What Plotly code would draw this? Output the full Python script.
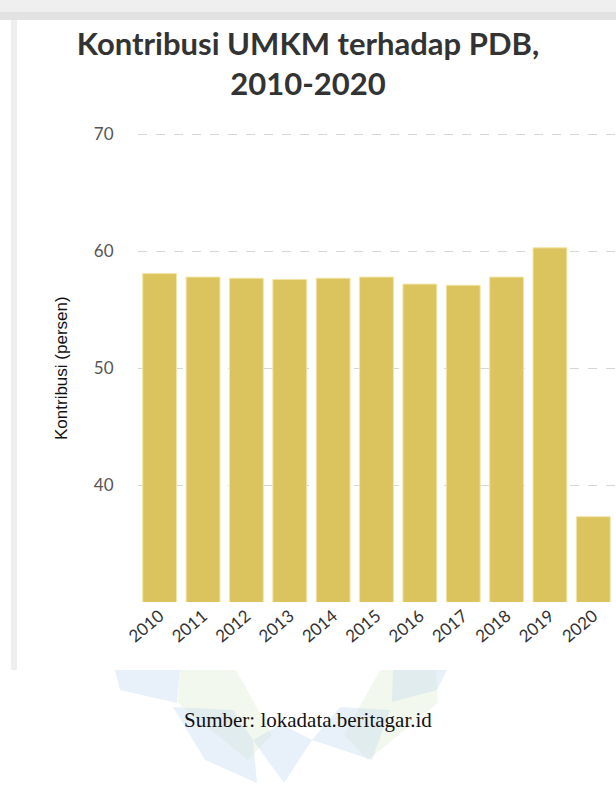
import plotly.graph_objects as go

years = ["2010", "2011", "2012", "2013", "2014", "2015", "2016", "2017", "2018", "2019", "2020"]
kontribusi = [58.1, 57.8, 57.7, 57.6, 57.7, 57.8, 57.2, 57.1, 57.8, 60.3, 37.3]
y_ticks = [30, 40, 50, 60, 70]
y_ticktext = ["", "40", "50", "60", "70"]

W, H = 616, 785
L, R, T, B = 138, 1, 131, 183
PW, PH = W - L - R, H - T - B

def px(x):
    return (x - L) / PW

def py(y):
    return (H - B - y) / PH

fig = go.Figure()
fig.add_trace(go.Bar(
    x=years, y=kontribusi,
    marker=dict(color="#dbc35d", line=dict(color="#f2e4a6", width=1)),
    hoverinfo="x+y",
))

shapes = []
# top shadow band
shapes.append(dict(type="rect", xref="paper", yref="paper", x0=px(0), x1=px(W), y0=py(0), y1=py(14),
                   fillcolor="#efefef", line=dict(width=0), layer="below"))
shapes.append(dict(type="rect", xref="paper", yref="paper", x0=px(0), x1=px(W), y0=py(12), y1=py(20),
                   fillcolor="#e2e2e2", line=dict(width=0), layer="below"))
# left card edge
shapes.append(dict(type="rect", xref="paper", yref="paper", x0=px(11), x1=px(17), y0=py(20), y1=py(670),
                   fillcolor="#eeeeee", line=dict(width=0), layer="below"))

# faint watermark petals below the card
def poly(points, color):
    d = "M " + " L ".join(f"{px(a):.5f},{py(b):.5f}" for a, b in points) + " Z"
    return dict(type="path", xref="paper", yref="paper", path=d, fillcolor=color,
                line=dict(width=0), layer="below")

blue = "rgba(190,216,238,0.35)"
green = "rgba(222,236,206,0.35)"
shapes += [
    poly([(115, 670), (180, 670), (177, 703), (120, 690)], blue),
    poly([(180, 670), (236, 670), (272, 735), (248, 760), (178, 703)], green),
    poly([(380, 670), (436, 670), (438, 703), (368, 760), (344, 735)], green),
    poly([(393, 670), (447, 670), (437, 690), (392, 702)], blue),
    poly([(173, 707), (233, 710), (253, 740), (257, 783), (205, 760)], blue),
    poly([(253, 740), (281, 724), (312, 740), (284, 783)], blue),
    poly([(340, 707), (390, 710), (372, 760), (312, 740)], blue),
]

fig.update_layout(
    width=W, height=H,
    margin=dict(l=L, r=R, t=T, b=B, pad=0),
    paper_bgcolor="white", plot_bgcolor="rgba(0,0,0,0)",
    bargap=0.22,
    showlegend=False,
    title=dict(
        text="Kontribusi UMKM terhadap PDB,<br>2010-2020",
        font=dict(family="Lato", size=31, color="#333333", weight="bold"),
        x=0.5, xanchor="center", xref="container",
        y=1 - 55 / H, yanchor="top", yref="container",
    ),
    xaxis=dict(
        type="category",
        tickangle=-40,
        tickfont=dict(family="Lato", size=17, color="#333333"),
        showgrid=False, zeroline=False, showline=False,
        ticks="", fixedrange=True,
    ),
    yaxis=dict(
        range=[30, 70.3],
        tickvals=y_ticks, ticktext=y_ticktext,
        tickfont=dict(family="Lato", size=17, color="#555555"),
        showgrid=True, gridcolor="#d6d6d6", griddash="dash", gridwidth=1,
        zeroline=False, showline=False,
        ticks="outside", ticklen=20, tickcolor="rgba(0,0,0,0)",
        fixedrange=True,
    ),
    shapes=shapes,
    annotations=[
        dict(text="Kontribusi (persen)", textangle=-90, xref="paper", yref="paper",
             x=px(61), y=py(368), xanchor="center", yanchor="middle", showarrow=False,
             font=dict(family="Liberation Sans Narrow, Arial Narrow, sans-serif", size=17, color="#111111")),
        dict(text="Sumber: lokadata.beritagar.id", xref="paper", yref="paper",
             x=px(308), y=py(720), xanchor="center", yanchor="middle", showarrow=False,
             font=dict(family="Liberation Serif, Times New Roman, serif", size=21, color="#111111")),
    ],
)

fig.write_html("out.html", config={"displayModeBar": False},
               post_script="document.body.style.margin='0';")
